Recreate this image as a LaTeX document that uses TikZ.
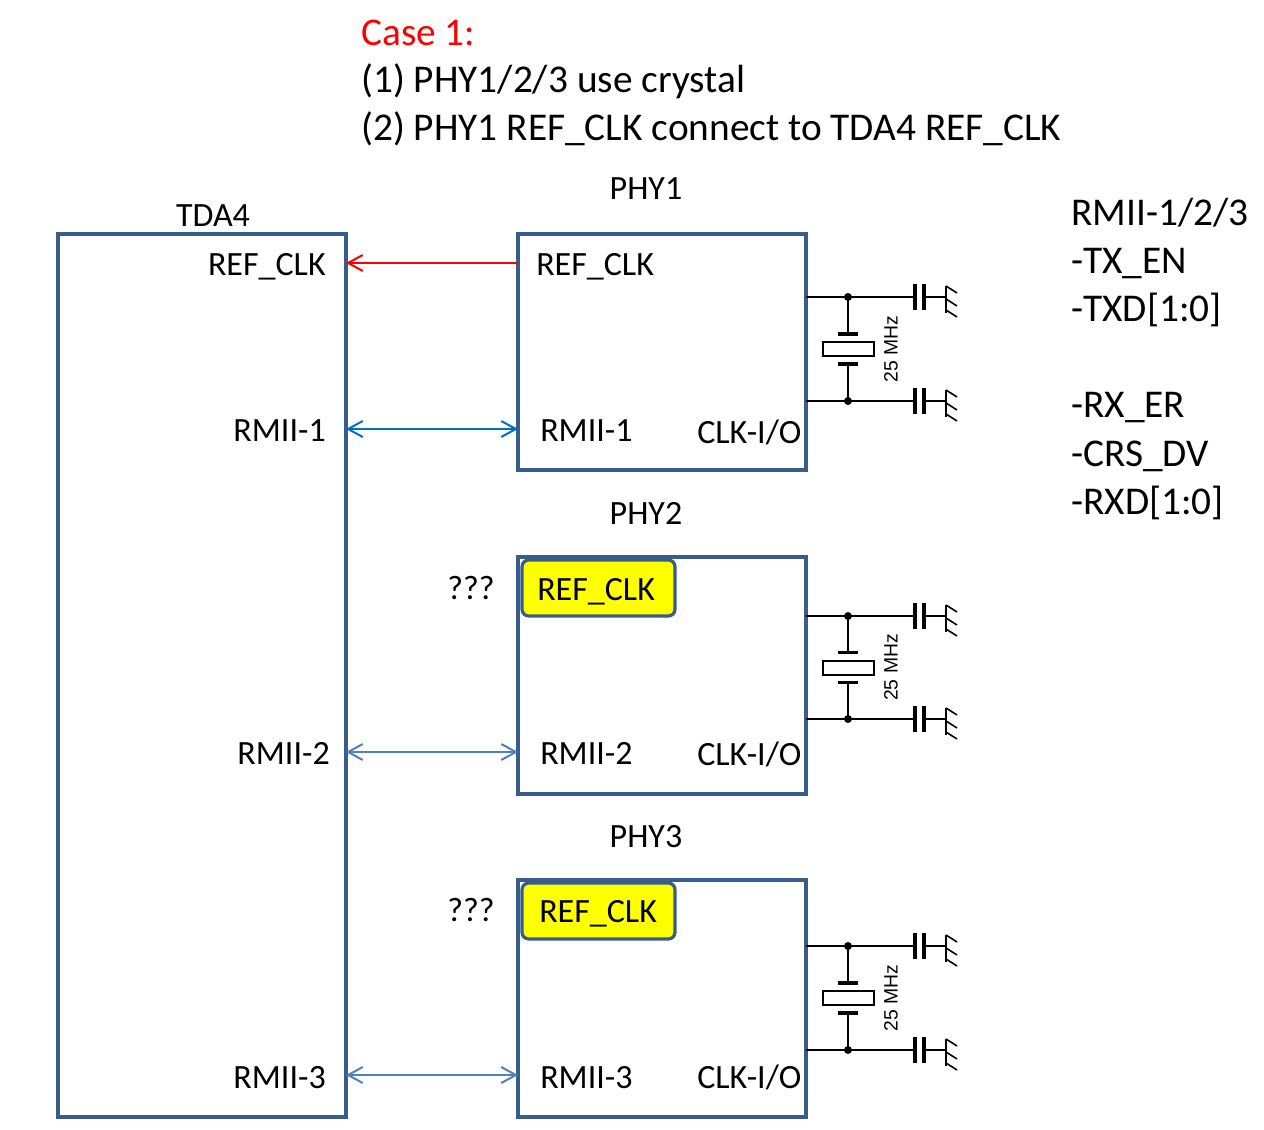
\documentclass[tikz,border=0pt]{standalone}
\usepackage{fontspec}
\setmainfont{Carlito}
\newfontfamily\arialf{Liberation Sans}
\usetikzlibrary{arrows.meta}
\definecolor{boxblue}{RGB}{56,93,138}
\definecolor{arrblueA}{RGB}{0,112,192}
\definecolor{arrblueB}{RGB}{79,129,189}
\definecolor{ylw}{RGB}{255,255,0}
\newcommand\xtalckt[2]{%
  \pgfmathsetmacro\ym{(#1+#2)/2}%
  \draw[wire] (806,#1) -- (913,#1);
  \draw[wire] (806,#2) -- (913,#2);
  \draw[wire] (848,#1) -- (848,\ym-15);
  \draw[wire] (848,#2) -- (848,\ym+15);
  \draw[plate] (838,\ym-15) -- (858,\ym-15);
  \draw[plate] (838,\ym+15) -- (858,\ym+15);
  \draw[wire,fill=white] (823,\ym-7) rectangle (874,\ym+7);
  \fill (848,#1) circle (4);
  \fill (848,#2) circle (4);
  \node[mhz] at (891,\ym) {25 MHz};
  \foreach \yy in {#1,#2}{
    \fill (913,\yy-13) rectangle (917,\yy+13);
    \fill (922,\yy-13) rectangle (926,\yy+13);
    \draw[wire] (926,\yy) -- (946,\yy);
    \draw[gnd] (946,\yy-11) -- (946,\yy+16);
    \draw[gnd] (946,\yy-11) -- (957,\yy-4);
    \draw[gnd] (946,\yy+2) -- (957,\yy+9);
    \draw[gnd] (946,\yy+13) -- (957,\yy+20);
  }
}
\begin{document}
\begin{tikzpicture}[x=0.75pt,y=-0.75pt,
  txt/.style={font=\fontsize{25.5}{30}\selectfont, inner sep=0pt},
  big/.style={font=\fontsize{29.5}{34}\selectfont, inner sep=0pt},
  blk/.style={draw=boxblue, line width=2.4pt, inner sep=0pt, outer sep=0pt, anchor=north west, minimum width=216pt},
  ybox/.style={draw=boxblue, fill=ylw, line width=2.4pt, rounded corners=5pt, inner sep=0pt, outer sep=0pt, anchor=north west, minimum width=114.75pt, minimum height=42pt},
  wire/.style={line width=1.5pt, black},
  plate/.style={line width=2.6pt, black},
  gnd/.style={line width=1.2pt, black},
  mhz/.style={rotate=90, inner sep=0pt, font=\arialf\fontsize{14.5}{16}\selectfont},
  redarr/.style={draw=red, line width=1.5pt, -{Straight Barb[length=11pt,width=12pt,line width=1.5pt]}},
  bluarrA/.style={draw=arrblueA, line width=1.5pt, {Straight Barb[length=11pt,width=12pt,line width=1.5pt]}-{Straight Barb[length=11pt,width=12pt,line width=1.5pt]}},
  bluarrB/.style={draw=arrblueB, line width=1.5pt, {Straight Barb[length=11pt,width=12pt,line width=1.5pt]}-{Straight Barb[length=11pt,width=12pt,line width=1.5pt]}}
]
\useasboundingbox (0,0) rectangle (1264,1130);

% heading
\node[big, anchor=base west, text=red] (case) at (361,46) {Case 1:};
\node[big, anchor=base west] (l1) at (361,93) {(1) PHY1/2/3 use crystal};
\node[big, anchor=base west] (l2) at (361,141) {(2) PHY1 REF\_CLK connect to TDA4 REF\_CLK};

% right column
\node[big, anchor=base west] (s0) at (1071,226) {RMII-1/2/3};
\node[big, anchor=base west] (s1) at (1071,274) {-TX\_EN};
\node[big, anchor=base west] (s2) at (1071,322) {-TXD[1:0]};
\node[big, anchor=base west] (s3) at (1071,418) {-RX\_ER};
\node[big, anchor=base west] (s4) at (1071,466) {-CRS\_DV};
\node[big, anchor=base west] (s5) at (1071,514) {-RXD[1:0]};

% boxes
\node[blk, minimum height=662.25pt] (tda4) at (58,234) {};
\node[blk, minimum height=177pt] (phy1) at (518,234) {};
\node[blk, minimum height=177.75pt] (phy2) at (518,557) {};
\node[blk, minimum height=177.75pt] (phy3) at (518,880) {};
\node[ybox] (y2) at (522,560) {};
\node[ybox] (y3) at (522,883) {};

% titles
\node[txt, anchor=base] (tTDA) at (213,227) {TDA4};
\node[txt, anchor=base] (tP1) at (646,200) {PHY1};
\node[txt, anchor=base] (tP2) at (646,524) {PHY2};
\node[txt, anchor=base] (tP3) at (646,847) {PHY3};

% TDA4 pins
\node[txt, anchor=base east] (tref) at (326,276) {REF\_CLK};
\node[txt, anchor=base east] (tr1) at (326,441) {RMII-1};
\node[txt, anchor=base east] (tr2) at (330,764) {RMII-2};
\node[txt, anchor=base east] (tr3) at (326,1088) {RMII-3};

% PHY pins
\node[txt, anchor=base west] (p1ref) at (536,276) {REF\_CLK};
\node[txt, anchor=base west] (p1r) at (540,441) {RMII-1};
\node[txt, anchor=base west] (p1c) at (697,444) {CLK-I/O};
\node[txt, anchor=base west] (p2ref) at (537,600) {REF\_CLK};
\node[txt, anchor=base west] (p2r) at (540,764) {RMII-2};
\node[txt, anchor=base west] (p2c) at (697,765) {CLK-I/O};
\node[txt, anchor=base west] (p3ref) at (539,922) {REF\_CLK};
\node[txt, anchor=base west] (p3r) at (540,1088) {RMII-3};
\node[txt, anchor=base west] (p3c) at (697,1088) {CLK-I/O};
\node[txt, anchor=base west] (q2) at (447,599) {???};
\node[txt, anchor=base west] (q3) at (447,921) {???};

% connectors
\coordinate (c1) at ([yshift=-21.75pt]phy1.north west);
\coordinate (c2) at ([yshift=-146.25pt]phy1.north west);
\coordinate (c3) at ([yshift=-146.25pt]phy2.north west);
\coordinate (c4) at ([yshift=-146.25pt]phy3.north west);
\draw[redarr] (c1) -- (tda4.east |- c1);
\draw[bluarrA] (tda4.east |- c2) -- (c2);
\draw[bluarrB] (tda4.east |- c3) -- (c3);
\draw[bluarrB] (tda4.east |- c4) -- (c4);

% crystals
\xtalckt{297}{401}
\xtalckt{616}{719}
\xtalckt{946}{1050}
\end{tikzpicture}
\end{document}
